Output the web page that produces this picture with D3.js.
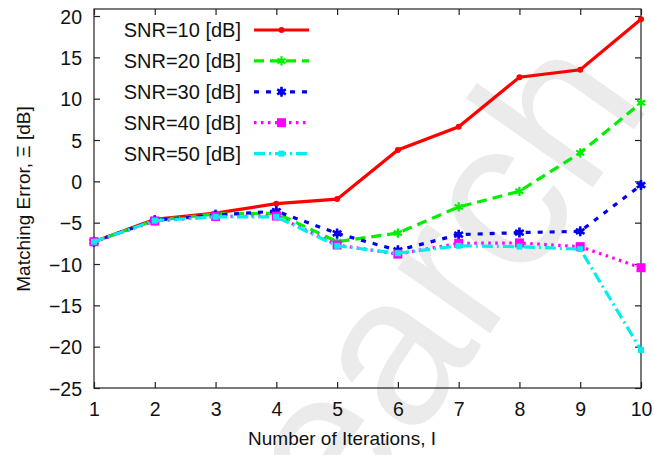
<!DOCTYPE html>
<html><head><meta charset="utf-8">
<script src="https://cdn.jsdelivr.net/npm/d3@7"></script>
<style>
body{margin:0;background:#fff}
text{font-family:"Liberation Sans",Arial,Helvetica,sans-serif;fill:#111}
</style>
</head><body>
<svg id="chart" width="654" height="455"></svg>
<script>
// ---- data ----
const iterations = [1,2,3,4,5,6,7,8,9,10];
const seriesLabels = ["SNR=10 [dB]","SNR=20 [dB]","SNR=30 [dB]","SNR=40 [dB]","SNR=50 [dB]"];
const snr10 = [-7.3,-4.6,-3.85,-2.7,-2.15,3.8,6.6,12.6,13.5,19.6];
const snr20 = [-7.3,-4.7,-3.95,-3.85,-7.3,-6.25,-3.1,-1.2,3.45,9.5];
const snr30 = [-7.3,-4.7,-4.1,-3.6,-6.3,-8.35,-6.45,-6.2,-6.05,-0.45];
const snr40 = [-7.3,-4.8,-4.25,-4.2,-7.7,-8.8,-7.5,-7.45,-7.9,-10.45];
const snr50 = [-7.3,-4.75,-4.3,-4.3,-7.8,-8.7,-7.8,-7.9,-8.2,-20.4];
const xTicks = [1,2,3,4,5,6,7,8,9,10];
const yTicks = [-25,-20,-15,-10,-5,0,5,10,15,20];
const colors = ["#ff0000","#00ee00","#0000ee","#ff00ff","#00eeee"];
const dashes = [null,"10,6","5,7","2.5,4.5","11,4,2,4"];
const markerTypes = ["circle","asterisk","star","bigsquare","smallsquare"];

const svg = d3.select("#chart");
const L=94, R=641, T=9, B=388;
const x = d3.scaleLinear().domain([1,10]).range([L,R]);
const y = d3.scaleLinear().domain([-25,20.85]).range([B,T]);

// watermark
svg.append("text")
  .attr("transform","translate(125,851) rotate(-54.8)")
  .attr("font-size",214)
  .style("fill","#ebebeb")
  .text("Research");

// frame
svg.append("rect").attr("x",L).attr("y",T).attr("width",R-L).attr("height",B-T)
  .attr("fill","none").attr("stroke","#222").attr("stroke-width",1.2);

// axes
const tickLen = 6;
const fs = 19.5;
const xb = svg.append("g").attr("transform",`translate(0,${B})`)
  .call(d3.axisBottom(x).tickValues(xTicks).tickSize(-tickLen).tickPadding(14).tickFormat(d3.format("d")));
const xt = svg.append("g").attr("transform",`translate(0,${T})`)
  .call(d3.axisTop(x).tickValues(xTicks).tickSize(-tickLen).tickFormat(""));
const yl = svg.append("g").attr("transform",`translate(${L},0)`)
  .call(d3.axisLeft(y).tickValues(yTicks).tickSize(-tickLen).tickPadding(12)
    .tickFormat(d => d<0 ? "\u2212"+Math.abs(d) : d));
const yr = svg.append("g").attr("transform",`translate(${R},0)`)
  .call(d3.axisRight(y).tickValues(yTicks).tickSize(-tickLen).tickFormat(""));
[xb,xt,yl,yr].forEach(g=>{
  g.attr("font-size",fs).attr("font-family","'Liberation Sans',Arial,sans-serif");
  g.select(".domain").remove();
  g.selectAll(".tick line").attr("stroke","#222").attr("stroke-width",1.2);
  g.selectAll(".tick text").attr("font-size",fs).attr("fill","#111");
});
yl.selectAll(".tick text").attr("dy","0.36em");
xb.selectAll(".tick text").attr("dy","0.71em");

// axis titles
svg.append("text").attr("x",342).attr("y",445).attr("text-anchor","middle")
  .attr("font-size",19).text("Number of Iterations, I");
svg.append("text").attr("transform","translate(30,199) rotate(-90)")
  .attr("text-anchor","middle").attr("font-size",19).text("Matching Error, \u039E [dB]");

// series
const allSeries = [snr10,snr20,snr30,snr40,snr50];
const line = d3.line().x((d,i)=>x(iterations[i])).y(d=>y(d));

function drawMarker(g, type, cx, cy, color){
  if(type==="circle"){
    g.append("circle").attr("cx",cx).attr("cy",cy).attr("r",3).attr("fill",color);
  } else if(type==="asterisk"){
    g.append("path").attr("d",d3.symbol(d3.symbolAsterisk,60)())
      .attr("transform",`translate(${cx},${cy})`).attr("fill","none").attr("stroke",color).attr("stroke-width",2.2);
  } else if(type==="star"){
    g.append("path").attr("d",d3.symbol(d3.symbolAsterisk,70)())
      .attr("transform",`translate(${cx},${cy})`).attr("fill","none").attr("stroke",color).attr("stroke-width",2.6);
    g.append("circle").attr("cx",cx).attr("cy",cy).attr("r",3).attr("fill",color);
  } else if(type==="bigsquare"){
    g.append("rect").attr("x",cx-4.5).attr("y",cy-4.5).attr("width",9).attr("height",9).attr("fill",color);
  } else {
    g.append("rect").attr("x",cx-3).attr("y",cy-3).attr("width",6).attr("height",6).attr("fill",color);
  }
}

allSeries.forEach((vals,si)=>{
  const g = svg.append("g");
  g.append("path").datum(vals).attr("d",line).attr("fill","none")
    .attr("stroke",colors[si]).attr("stroke-width",3.2)
    .attr("stroke-dasharray",dashes[si]);
  vals.forEach((v,i)=>drawMarker(g,markerTypes[si],x(iterations[i]),y(v),colors[si]));
});

// legend
const legY0 = 30, legDy = 30.9;
seriesLabels.forEach((lab,si)=>{
  const ly = legY0 + si*legDy;
  const g = svg.append("g");
  g.append("rect").attr("x",112).attr("y",ly-13).attr("width",205).attr("height",26).attr("fill","#fff");
  g.append("text").attr("x",241).attr("y",ly).attr("dy","0.36em").attr("text-anchor","end")
    .attr("font-size",20).text(lab);
  g.append("line").attr("x1",254).attr("x2",309).attr("y1",ly).attr("y2",ly)
    .attr("stroke",colors[si]).attr("stroke-width",3.2).attr("stroke-dasharray",dashes[si]);
  drawMarker(g,markerTypes[si],281.5,ly,colors[si]);
});
</script>
</body></html>
